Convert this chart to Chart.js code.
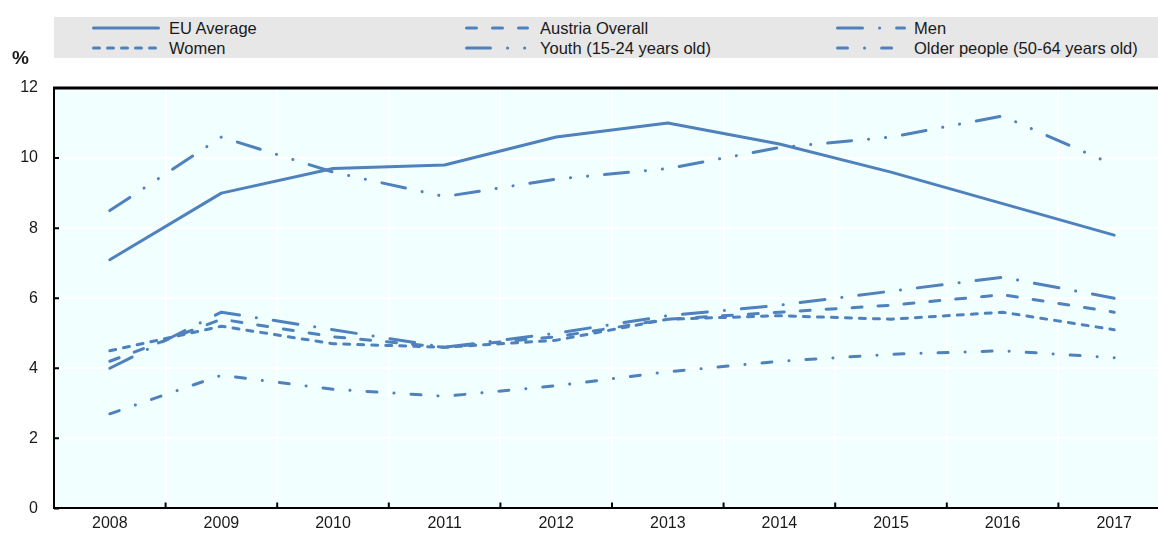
<!DOCTYPE html>
<html>
<head>
<meta charset="utf-8">
<script src="https://cdn.jsdelivr.net/npm/chart.js@4/dist/chart.umd.min.js"></script>
<style>
  html, body { margin: 0; padding: 0; width: 1158px; height: 534px; overflow: hidden; background: #fff; }
  #wrap { position: absolute; left: 0; top: 0; width: 1170px; height: 534px; }
  #legend { position: absolute; left: 54px; top: 17px; width: 1104px; height: 41px; background: #E7E7E7;
            font-family: "Liberation Sans", Arial, sans-serif; font-size: 16.5px; color: #1a1a1a; }
  .item { position: absolute; height: 20px; line-height: 20px; white-space: nowrap; }
  .item svg { position: absolute; top: 7px; }
  .item span { position: absolute; top: 0; }
  #pct { position: absolute; left: 12px; top: 47px; font-family: "Liberation Sans", Arial, sans-serif;
         font-weight: bold; font-size: 19px; color: #1a1a1a; }
</style>
</head>
<body>
<div id="wrap"><canvas id="c" width="1170" height="534"></canvas></div>
<div id="legend"></div>
<div id="pct">%</div>
<script>
// ---- data ----
const years = ["2008","2009","2010","2011","2012","2013","2014","2015","2016","2017"];
const euAverage = [7.1, 9.0, 9.7, 9.8, 10.6, 11.0, 10.4, 9.6, 8.7, 7.8];
const austriaOverall = [4.2, 5.4, 4.9, 4.6, 4.9, 5.4, 5.6, 5.8, 6.1, 5.6];
const men = [4.0, 5.6, 5.1, 4.6, 5.0, 5.5, 5.8, 6.2, 6.6, 6.0];
const women = [4.5, 5.2, 4.7, 4.6, 4.8, 5.4, 5.5, 5.4, 5.6, 5.1];
const youth = [8.5, 10.6, 9.6, 8.9, 9.4, 9.7, 10.3, 10.6, 11.2, 9.8];
const older = [2.7, 3.8, 3.4, 3.2, 3.5, 3.9, 4.2, 4.4, 4.5, 4.3];
const yTicks = [0, 2, 4, 6, 8, 10, 12];

const COLOR = '#4F81BD';
const FONT = '"Liberation Sans", Arial, sans-serif';

const series = [
  { label: 'EU Average', data: euAverage, dash: [], col: 0, row: 0 },
  { label: 'Austria Overall', data: austriaOverall, dash: [10, 16], col: 1, row: 0 },
  { label: 'Men', data: men, dash: [25, 17, 0.1, 17], col: 2, row: 0 },
  { label: 'Women', data: women, dash: [6, 8], col: 0, row: 1 },
  { label: 'Youth (15-24 years old)', data: youth, dash: [24, 17, 0.1, 17, 0.1, 17], col: 1, row: 1 },
  { label: 'Older people (50-64 years old)', data: older, dash: [10, 17, 0.1, 17], col: 2, row: 1 }
];

// ---- legend (HTML) ----
const colSample = [{ x: 38, w: 68, t: 115 }, { x: 411, w: 64, t: 486 }, { x: 782, w: 70, t: 860 }];
const legend = document.getElementById('legend');
series.forEach(s => {
  const c = colSample[s.col];
  const d = document.createElement('div');
  d.className = 'item';
  d.style.left = '0px';
  d.style.top = (s.row === 0 ? 1 : 21) + 'px';
  d.style.width = '1104px';
  const dashAttr = s.dash.length ? `stroke-dasharray="${s.dash.join(' ')}"` : '';
  d.innerHTML = `<svg style="left:${c.x}px" width="${c.w}" height="6"><line x1="1.5" y1="3" x2="${c.w - 1.5}" y2="3" stroke="${COLOR}" stroke-width="3" stroke-linecap="round" ${dashAttr}/></svg><span style="left:${c.t}px">${s.label}</span>`;
  legend.appendChild(d);
});

// ---- frame plugin: top border and inward tick marks ----
const framePlugin = {
  id: 'frame',
  afterDraw(chart) {
    const ctx = chart.ctx, a = chart.chartArea;
    const xs = chart.scales.x, ys = chart.scales.y;
    ctx.save();
    ctx.strokeStyle = '#000';
    ctx.lineWidth = 3;
    ctx.beginPath();
    ctx.moveTo(a.left - 1, a.top);
    ctx.lineTo(a.right, a.top);
    ctx.stroke();
    ctx.lineWidth = 2;
    ctx.beginPath();
    yTicks.forEach(v => {
      const y = ys.getPixelForValue(v);
      ctx.moveTo(a.left, y);
      ctx.lineTo(a.left + 5, y);
    });
    for (let i = 1; i < years.length; i++) {
      const x = (xs.getPixelForValue(i - 1) + xs.getPixelForValue(i)) / 2;
      ctx.moveTo(x, a.bottom);
      ctx.lineTo(x, a.bottom - 6);
    }
    ctx.stroke();
    ctx.restore();
  }
};

const bgPlugin = {
  id: 'bg',
  beforeDraw(chart) {
    const ctx = chart.ctx, a = chart.chartArea;
    ctx.save();
    ctx.fillStyle = '#F2FFFF';
    ctx.fillRect(a.left, a.top, a.right - a.left, a.bottom - a.top);
    ctx.restore();
  }
};

new Chart(document.getElementById('c'), {
  type: 'line',
  data: {
    labels: years,
    datasets: series.map(s => ({
      label: s.label,
      data: s.data,
      borderColor: COLOR,
      backgroundColor: COLOR,
      borderWidth: 3,
      borderDash: s.dash,
      borderCapStyle: 'round',
      borderJoinStyle: 'round',
      pointRadius: 0,
      tension: 0,
      fill: false
    }))
  },
  options: {
    responsive: false,
    animation: false,
    layout: { padding: { top: 88, left: 0, right: 0, bottom: 0 } },
    plugins: { legend: { display: false }, tooltip: { enabled: false } },
    scales: {
      x: {
        type: 'category',
        offset: true,
        grid: { color: '#ffffff', lineWidth: 2, offset: true, drawTicks: false },
        border: { color: '#000', width: 2 },
        ticks: { color: '#1a1a1a', font: { family: FONT, size: 16 }, padding: 6, maxRotation: 0 },
        afterFit(s) { s.height = 24; }
      },
      y: {
        min: 0, max: 12,
        afterBuildTicks(s) { s.ticks = yTicks.map(v => ({ value: v })); },
        grid: { color: '#ffffff', lineWidth: 2, drawTicks: false },
        border: { color: '#000', width: 2 },
        ticks: { color: '#1a1a1a', font: { family: FONT, size: 16 }, padding: 16 },
        afterFit(s) { s.width = 54; }
      }
    }
  },
  plugins: [bgPlugin, framePlugin]
});
</script>
</body>
</html>
